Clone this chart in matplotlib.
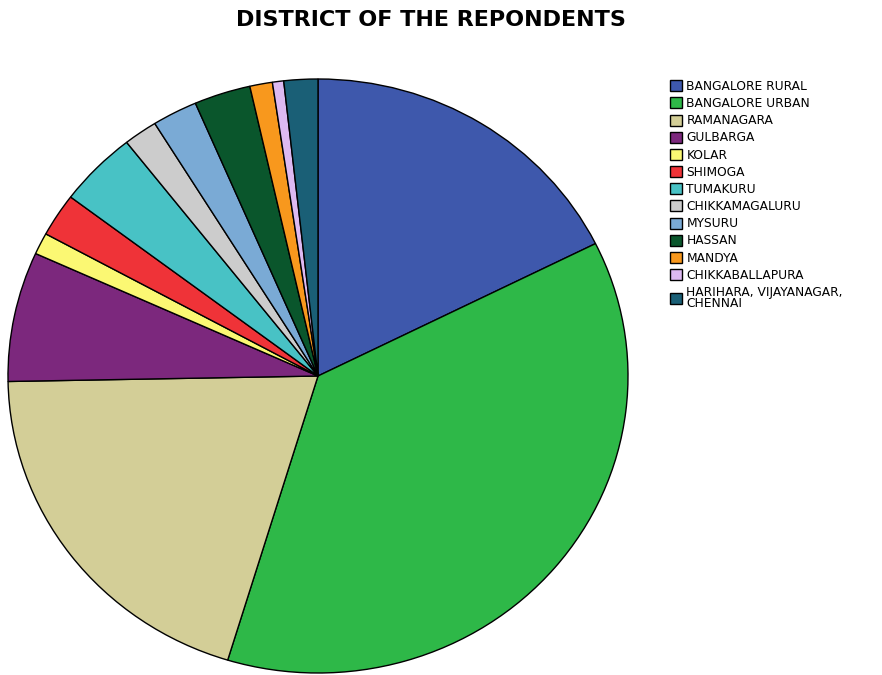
import matplotlib
matplotlib.use("Agg")
import matplotlib.pyplot as plt

districts = ["BANGALORE RURAL", "BANGALORE URBAN", "RAMANAGARA", "GULBARGA", "KOLAR",
             "SHIMOGA", "TUMAKURU", "CHIKKAMAGALURU", "MYSURU", "HASSAN", "MANDYA",
             "CHIKKABALLAPURA", "HARIHARA, VIJAYANAGAR,\nCHENNAI"]
counts = [30, 63, 34, 12, 2, 4, 7, 3, 4, 5, 2, 1, 3]
colors = ["#3E58AC", "#2EB848", "#D3CE97", "#7C287D", "#FBF873", "#EF3338", "#48C2C5",
          "#CCCCCC", "#7AAAD5", "#0A562C", "#F8981D", "#DDB9F1", "#1A5F76"]

fig = plt.figure(figsize=(8.82, 6.75), dpi=100)
W, H = 882, 675
cx, cy, rx, ry = 318, 376, 310, 297
ax = fig.add_axes([(cx - rx) / W, (H - cy - ry) / H, 2 * rx / W, 2 * ry / H])
wedges, _ = ax.pie(counts, colors=colors, startangle=90, counterclock=False,
                   wedgeprops=dict(edgecolor="black", linewidth=1.0))
ax.set_aspect("auto")
ax.set_xlim(-1, 1)
ax.set_ylim(-1, 1)
ax.axis("off")

fig.text(431 / W, 1 - 20 / H, "DISTRICT OF THE REPONDENTS", ha="center", va="center",
         fontsize=16, fontweight="bold", family="DejaVu Sans")

leg = fig.legend(wedges, districts, loc="upper left",
                 bbox_to_anchor=(670 / W, 1 - 80 / H), frameon=False,
                 prop=dict(family="DejaVu Sans", size=8.8),
                 handlelength=1.0, handleheight=1.0, handletextpad=0.35,
                 labelspacing=0.34, borderpad=0, borderaxespad=0)
for t in leg.get_texts():
    t.set_linespacing(0.85)

fig.savefig("out.png", dpi=100)
